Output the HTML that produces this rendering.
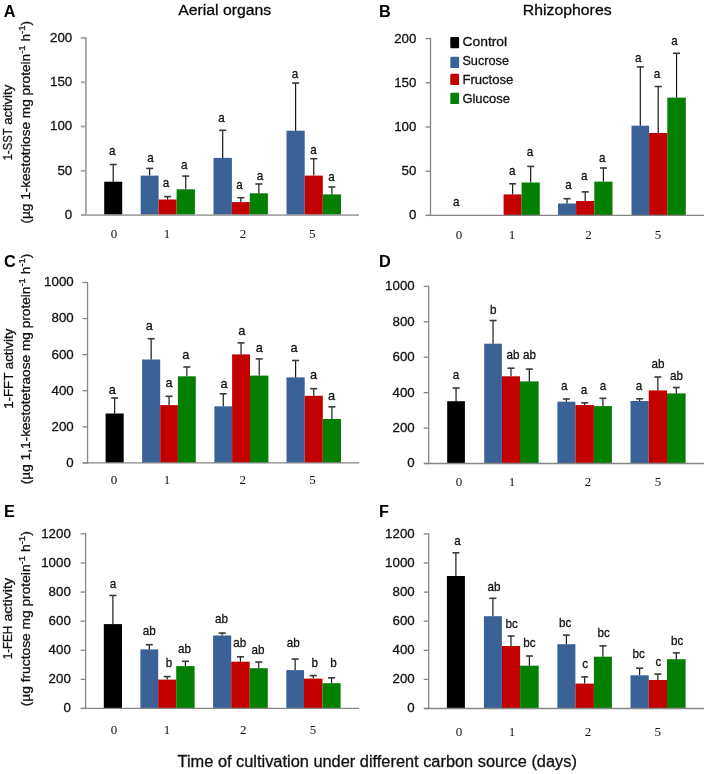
<!DOCTYPE html><html><head><meta charset="utf-8"><title>Fructan enzyme activities</title><style>html,body{margin:0;padding:0;background:#fff;}body{width:708px;height:774px;overflow:hidden;font-family:"Liberation Sans",sans-serif;}svg{display:block;will-change:transform;}text{stroke:#111;stroke-width:0.3px;}text.s,text.bl{stroke:none;}</style></head><body>
<svg width="708" height="774" viewBox="0 0 708 774">
<rect x="104.2" y="181.7" width="18" height="33.4" fill="#000000"/>
<rect x="140.7" y="175.6" width="17.9" height="39.5" fill="#3a6297"/>
<rect x="158.6" y="199.5" width="18" height="15.6" fill="#c30000"/>
<rect x="176.6" y="189.3" width="18.3" height="25.8" fill="#037f03"/>
<rect x="213.5" y="157.9" width="18.4" height="57.2" fill="#3a6297"/>
<rect x="231.9" y="202.1" width="17.9" height="13" fill="#c30000"/>
<rect x="249.8" y="193.3" width="18.1" height="21.8" fill="#037f03"/>
<rect x="286.5" y="130.7" width="18.2" height="84.4" fill="#3a6297"/>
<rect x="304.7" y="175.6" width="18.1" height="39.5" fill="#c30000"/>
<rect x="322.8" y="194.4" width="18.2" height="20.7" fill="#037f03"/>
<line x1="113.2" y1="181.7" x2="113.2" y2="164.2" stroke="#1a1a1a" stroke-width="1.2"/>
<line x1="109.7" y1="164.5" x2="116.7" y2="164.5" stroke="#3a3a3a" stroke-width="1.6"/>
<line x1="149.65" y1="175.6" x2="149.65" y2="168.1" stroke="#1a1a1a" stroke-width="1.2"/>
<line x1="146.15" y1="168.4" x2="153.15" y2="168.4" stroke="#3a3a3a" stroke-width="1.6"/>
<line x1="167.6" y1="199.5" x2="167.6" y2="196.3" stroke="#1a1a1a" stroke-width="1.2"/>
<line x1="164.1" y1="196.6" x2="171.1" y2="196.6" stroke="#3a3a3a" stroke-width="1.6"/>
<line x1="185.75" y1="189.3" x2="185.75" y2="175.8" stroke="#1a1a1a" stroke-width="1.2"/>
<line x1="182.25" y1="176.1" x2="189.25" y2="176.1" stroke="#3a3a3a" stroke-width="1.6"/>
<line x1="222.7" y1="157.9" x2="222.7" y2="130" stroke="#1a1a1a" stroke-width="1.2"/>
<line x1="219.2" y1="130.3" x2="226.2" y2="130.3" stroke="#3a3a3a" stroke-width="1.6"/>
<line x1="240.85" y1="202.1" x2="240.85" y2="197.4" stroke="#1a1a1a" stroke-width="1.2"/>
<line x1="237.35" y1="197.7" x2="244.35" y2="197.7" stroke="#3a3a3a" stroke-width="1.6"/>
<line x1="258.85" y1="193.3" x2="258.85" y2="183.7" stroke="#1a1a1a" stroke-width="1.2"/>
<line x1="255.35" y1="184" x2="262.35" y2="184" stroke="#3a3a3a" stroke-width="1.6"/>
<line x1="295.6" y1="130.7" x2="295.6" y2="82.8" stroke="#1a1a1a" stroke-width="1.2"/>
<line x1="292.1" y1="83.1" x2="299.1" y2="83.1" stroke="#3a3a3a" stroke-width="1.6"/>
<line x1="313.75" y1="175.6" x2="313.75" y2="158.4" stroke="#1a1a1a" stroke-width="1.2"/>
<line x1="310.25" y1="158.7" x2="317.25" y2="158.7" stroke="#3a3a3a" stroke-width="1.6"/>
<line x1="331.9" y1="194.4" x2="331.9" y2="186.7" stroke="#1a1a1a" stroke-width="1.2"/>
<line x1="328.4" y1="187" x2="335.4" y2="187" stroke="#3a3a3a" stroke-width="1.6"/>
<line x1="85.9" y1="36.95" x2="85.9" y2="216.05" stroke="#a6a6a6" stroke-width="1.9"/>
<line x1="81" y1="215.1" x2="359" y2="215.1" stroke="#a6a6a6" stroke-width="1.9"/>
<line x1="80.9" y1="215.1" x2="85.9" y2="215.1" stroke="#a6a6a6" stroke-width="1.9"/>
<text x="72.2" y="219" font-size="13.3" text-anchor="end" font-family='"Liberation Sans", sans-serif' font-weight="normal" fill="#111">0</text>
<line x1="80.9" y1="170.8" x2="85.9" y2="170.8" stroke="#a6a6a6" stroke-width="1.9"/>
<text x="72.2" y="174.7" font-size="13.3" text-anchor="end" font-family='"Liberation Sans", sans-serif' font-weight="normal" fill="#111">50</text>
<line x1="80.9" y1="126.5" x2="85.9" y2="126.5" stroke="#a6a6a6" stroke-width="1.9"/>
<text x="72.2" y="130.4" font-size="13.3" text-anchor="end" font-family='"Liberation Sans", sans-serif' font-weight="normal" fill="#111">100</text>
<line x1="80.9" y1="82.2" x2="85.9" y2="82.2" stroke="#a6a6a6" stroke-width="1.9"/>
<text x="72.2" y="86.1" font-size="13.3" text-anchor="end" font-family='"Liberation Sans", sans-serif' font-weight="normal" fill="#111">150</text>
<line x1="80.9" y1="37.9" x2="85.9" y2="37.9" stroke="#a6a6a6" stroke-width="1.9"/>
<text x="72.2" y="41.8" font-size="13.3" text-anchor="end" font-family='"Liberation Sans", sans-serif' font-weight="normal" fill="#111">200</text>
<text x="0" y="0" font-size="13.4" text-anchor="middle" font-family='"Liberation Sans", sans-serif' fill="#111" transform="translate(112.3 155.2) scale(0.87 1)">a</text>
<text x="0" y="0" font-size="13.4" text-anchor="middle" font-family='"Liberation Sans", sans-serif' fill="#111" transform="translate(150.4 161.6) scale(0.87 1)">a</text>
<text x="0" y="0" font-size="13.4" text-anchor="middle" font-family='"Liberation Sans", sans-serif' fill="#111" transform="translate(166 187) scale(0.87 1)">a</text>
<text x="0" y="0" font-size="13.4" text-anchor="middle" font-family='"Liberation Sans", sans-serif' fill="#111" transform="translate(184.2 169.2) scale(0.87 1)">a</text>
<text x="0" y="0" font-size="13.4" text-anchor="middle" font-family='"Liberation Sans", sans-serif' fill="#111" transform="translate(221.4 122.4) scale(0.87 1)">a</text>
<text x="0" y="0" font-size="13.4" text-anchor="middle" font-family='"Liberation Sans", sans-serif' fill="#111" transform="translate(239.5 189.4) scale(0.87 1)">a</text>
<text x="0" y="0" font-size="13.4" text-anchor="middle" font-family='"Liberation Sans", sans-serif' fill="#111" transform="translate(260 180.1) scale(0.87 1)">a</text>
<text x="0" y="0" font-size="13.4" text-anchor="middle" font-family='"Liberation Sans", sans-serif' fill="#111" transform="translate(294.9 78.2) scale(0.87 1)">a</text>
<text x="0" y="0" font-size="13.4" text-anchor="middle" font-family='"Liberation Sans", sans-serif' fill="#111" transform="translate(313.5 153.8) scale(0.87 1)">a</text>
<text x="0" y="0" font-size="13.4" text-anchor="middle" font-family='"Liberation Sans", sans-serif' fill="#111" transform="translate(331.4 180.5) scale(0.87 1)">a</text>
<text x="114" y="237.5" font-size="13" text-anchor="middle" font-family='"Liberation Serif", serif' font-weight="normal" fill="#111" class="s">0</text>
<text x="167" y="237.5" font-size="13" text-anchor="middle" font-family='"Liberation Serif", serif' font-weight="normal" fill="#111" class="s">1</text>
<text x="243" y="237.5" font-size="13" text-anchor="middle" font-family='"Liberation Serif", serif' font-weight="normal" fill="#111" class="s">2</text>
<text x="312.3" y="237.5" font-size="13" text-anchor="middle" font-family='"Liberation Serif", serif' font-weight="normal" fill="#111" class="s">5</text>
<text x="3.7" y="16.6" font-size="16.3" text-anchor="start" font-family='"Liberation Sans", sans-serif' font-weight="bold" fill="#000" class="bl">A</text>
<rect x="503.6" y="194.4" width="18" height="21" fill="#c30000"/>
<rect x="521.6" y="182.5" width="18.2" height="32.9" fill="#037f03"/>
<rect x="558" y="203.5" width="18.1" height="11.9" fill="#3a6297"/>
<rect x="576.1" y="201" width="18.2" height="14.4" fill="#c30000"/>
<rect x="594.3" y="181.6" width="18.2" height="33.8" fill="#037f03"/>
<rect x="631.5" y="125.7" width="17.6" height="89.7" fill="#3a6297"/>
<rect x="649.1" y="133" width="18.2" height="82.4" fill="#c30000"/>
<rect x="667.3" y="97.6" width="18.5" height="117.8" fill="#037f03"/>
<line x1="512.6" y1="194.4" x2="512.6" y2="183.5" stroke="#1a1a1a" stroke-width="1.2"/>
<line x1="509.1" y1="183.8" x2="516.1" y2="183.8" stroke="#3a3a3a" stroke-width="1.6"/>
<line x1="530.7" y1="182.5" x2="530.7" y2="166.1" stroke="#1a1a1a" stroke-width="1.2"/>
<line x1="527.2" y1="166.4" x2="534.2" y2="166.4" stroke="#3a3a3a" stroke-width="1.6"/>
<line x1="567.05" y1="203.5" x2="567.05" y2="198.4" stroke="#1a1a1a" stroke-width="1.2"/>
<line x1="563.55" y1="198.7" x2="570.55" y2="198.7" stroke="#3a3a3a" stroke-width="1.6"/>
<line x1="585.2" y1="201" x2="585.2" y2="191.6" stroke="#1a1a1a" stroke-width="1.2"/>
<line x1="581.7" y1="191.9" x2="588.7" y2="191.9" stroke="#3a3a3a" stroke-width="1.6"/>
<line x1="603.4" y1="181.6" x2="603.4" y2="167.7" stroke="#1a1a1a" stroke-width="1.2"/>
<line x1="599.9" y1="168" x2="606.9" y2="168" stroke="#3a3a3a" stroke-width="1.6"/>
<line x1="640.3" y1="125.7" x2="640.3" y2="66.6" stroke="#1a1a1a" stroke-width="1.2"/>
<line x1="636.8" y1="66.9" x2="643.8" y2="66.9" stroke="#3a3a3a" stroke-width="1.6"/>
<line x1="658.2" y1="133" x2="658.2" y2="86.2" stroke="#1a1a1a" stroke-width="1.2"/>
<line x1="654.7" y1="86.5" x2="661.7" y2="86.5" stroke="#3a3a3a" stroke-width="1.6"/>
<line x1="676.55" y1="97.6" x2="676.55" y2="53" stroke="#1a1a1a" stroke-width="1.2"/>
<line x1="673.05" y1="53.3" x2="680.05" y2="53.3" stroke="#3a3a3a" stroke-width="1.6"/>
<line x1="430.5" y1="37.95" x2="430.5" y2="216.05" stroke="#848484" stroke-width="1.3"/>
<line x1="426" y1="215.4" x2="704" y2="215.4" stroke="#848484" stroke-width="1.3"/>
<line x1="425.5" y1="215.4" x2="430.5" y2="215.4" stroke="#848484" stroke-width="1.3"/>
<text x="416.4" y="219.3" font-size="13.3" text-anchor="end" font-family='"Liberation Sans", sans-serif' font-weight="normal" fill="#111">0</text>
<line x1="425.5" y1="171.2" x2="430.5" y2="171.2" stroke="#848484" stroke-width="1.3"/>
<text x="416.4" y="175.1" font-size="13.3" text-anchor="end" font-family='"Liberation Sans", sans-serif' font-weight="normal" fill="#111">50</text>
<line x1="425.5" y1="127" x2="430.5" y2="127" stroke="#848484" stroke-width="1.3"/>
<text x="416.4" y="130.9" font-size="13.3" text-anchor="end" font-family='"Liberation Sans", sans-serif' font-weight="normal" fill="#111">100</text>
<line x1="425.5" y1="82.8" x2="430.5" y2="82.8" stroke="#848484" stroke-width="1.3"/>
<text x="416.4" y="86.7" font-size="13.3" text-anchor="end" font-family='"Liberation Sans", sans-serif' font-weight="normal" fill="#111">150</text>
<line x1="425.5" y1="38.6" x2="430.5" y2="38.6" stroke="#848484" stroke-width="1.3"/>
<text x="416.4" y="42.5" font-size="13.3" text-anchor="end" font-family='"Liberation Sans", sans-serif' font-weight="normal" fill="#111">200</text>
<text x="0" y="0" font-size="13.4" text-anchor="middle" font-family='"Liberation Sans", sans-serif' fill="#111" transform="translate(456.2 205.7) scale(0.87 1)">a</text>
<text x="0" y="0" font-size="13.4" text-anchor="middle" font-family='"Liberation Sans", sans-serif' fill="#111" transform="translate(512.3 174.7) scale(0.87 1)">a</text>
<text x="0" y="0" font-size="13.4" text-anchor="middle" font-family='"Liberation Sans", sans-serif' fill="#111" transform="translate(530 156.4) scale(0.87 1)">a</text>
<text x="0" y="0" font-size="13.4" text-anchor="middle" font-family='"Liberation Sans", sans-serif' fill="#111" transform="translate(568.4 189.2) scale(0.87 1)">a</text>
<text x="0" y="0" font-size="13.4" text-anchor="middle" font-family='"Liberation Sans", sans-serif' fill="#111" transform="translate(584.3 180.3) scale(0.87 1)">a</text>
<text x="0" y="0" font-size="13.4" text-anchor="middle" font-family='"Liberation Sans", sans-serif' fill="#111" transform="translate(602.3 162) scale(0.87 1)">a</text>
<text x="0" y="0" font-size="13.4" text-anchor="middle" font-family='"Liberation Sans", sans-serif' fill="#111" transform="translate(638.3 61.6) scale(0.87 1)">a</text>
<text x="0" y="0" font-size="13.4" text-anchor="middle" font-family='"Liberation Sans", sans-serif' fill="#111" transform="translate(657 78.2) scale(0.87 1)">a</text>
<text x="0" y="0" font-size="13.4" text-anchor="middle" font-family='"Liberation Sans", sans-serif' fill="#111" transform="translate(674.6 44.5) scale(0.87 1)">a</text>
<text x="459" y="239.2" font-size="13" text-anchor="middle" font-family='"Liberation Serif", serif' font-weight="normal" fill="#111" class="s">0</text>
<text x="512" y="239.2" font-size="13" text-anchor="middle" font-family='"Liberation Serif", serif' font-weight="normal" fill="#111" class="s">1</text>
<text x="588.4" y="239.2" font-size="13" text-anchor="middle" font-family='"Liberation Serif", serif' font-weight="normal" fill="#111" class="s">2</text>
<text x="658" y="239.2" font-size="13" text-anchor="middle" font-family='"Liberation Serif", serif' font-weight="normal" fill="#111" class="s">5</text>
<text x="379.1" y="16.8" font-size="16.3" text-anchor="start" font-family='"Liberation Sans", sans-serif' font-weight="bold" fill="#000" class="bl">B</text>
<rect x="105.6" y="413.5" width="18.1" height="49.4" fill="#000000"/>
<rect x="142.1" y="359.5" width="18.1" height="103.4" fill="#3a6297"/>
<rect x="160.2" y="405.1" width="17.7" height="57.8" fill="#c30000"/>
<rect x="177.9" y="376.3" width="17.9" height="86.6" fill="#037f03"/>
<rect x="214.4" y="406.3" width="17.7" height="56.6" fill="#3a6297"/>
<rect x="232.1" y="354.4" width="17.9" height="108.5" fill="#c30000"/>
<rect x="250" y="375.6" width="18.4" height="87.3" fill="#037f03"/>
<rect x="286.5" y="377.4" width="18.2" height="85.5" fill="#3a6297"/>
<rect x="304.7" y="395.8" width="18.1" height="67.1" fill="#c30000"/>
<rect x="322.8" y="419" width="18.2" height="43.9" fill="#037f03"/>
<line x1="114.65" y1="413.5" x2="114.65" y2="397.7" stroke="#1a1a1a" stroke-width="1.2"/>
<line x1="111.15" y1="398" x2="118.15" y2="398" stroke="#3a3a3a" stroke-width="1.6"/>
<line x1="151.15" y1="359.5" x2="151.15" y2="338.4" stroke="#1a1a1a" stroke-width="1.2"/>
<line x1="147.65" y1="338.7" x2="154.65" y2="338.7" stroke="#3a3a3a" stroke-width="1.6"/>
<line x1="169.05" y1="405.1" x2="169.05" y2="396" stroke="#1a1a1a" stroke-width="1.2"/>
<line x1="165.55" y1="396.3" x2="172.55" y2="396.3" stroke="#3a3a3a" stroke-width="1.6"/>
<line x1="186.85" y1="376.3" x2="186.85" y2="366.7" stroke="#1a1a1a" stroke-width="1.2"/>
<line x1="183.35" y1="367" x2="190.35" y2="367" stroke="#3a3a3a" stroke-width="1.6"/>
<line x1="223.25" y1="406.3" x2="223.25" y2="393.5" stroke="#1a1a1a" stroke-width="1.2"/>
<line x1="219.75" y1="393.8" x2="226.75" y2="393.8" stroke="#3a3a3a" stroke-width="1.6"/>
<line x1="241.05" y1="354.4" x2="241.05" y2="342.6" stroke="#1a1a1a" stroke-width="1.2"/>
<line x1="237.55" y1="342.9" x2="244.55" y2="342.9" stroke="#3a3a3a" stroke-width="1.6"/>
<line x1="259.2" y1="375.6" x2="259.2" y2="358.6" stroke="#1a1a1a" stroke-width="1.2"/>
<line x1="255.7" y1="358.9" x2="262.7" y2="358.9" stroke="#3a3a3a" stroke-width="1.6"/>
<line x1="295.6" y1="377.4" x2="295.6" y2="360.2" stroke="#1a1a1a" stroke-width="1.2"/>
<line x1="292.1" y1="360.5" x2="299.1" y2="360.5" stroke="#3a3a3a" stroke-width="1.6"/>
<line x1="313.75" y1="395.8" x2="313.75" y2="388.4" stroke="#1a1a1a" stroke-width="1.2"/>
<line x1="310.25" y1="388.7" x2="317.25" y2="388.7" stroke="#3a3a3a" stroke-width="1.6"/>
<line x1="331.9" y1="419" x2="331.9" y2="406.5" stroke="#1a1a1a" stroke-width="1.2"/>
<line x1="328.4" y1="406.8" x2="335.4" y2="406.8" stroke="#3a3a3a" stroke-width="1.6"/>
<line x1="87.55" y1="281.85" x2="87.55" y2="463.55" stroke="#868686" stroke-width="1.3"/>
<line x1="83" y1="462.9" x2="359.3" y2="462.9" stroke="#868686" stroke-width="1.3"/>
<line x1="82.55" y1="462.9" x2="87.55" y2="462.9" stroke="#868686" stroke-width="1.3"/>
<text x="73.7" y="466.8" font-size="13.3" text-anchor="end" font-family='"Liberation Sans", sans-serif' font-weight="normal" fill="#111">0</text>
<line x1="82.55" y1="426.82" x2="87.55" y2="426.82" stroke="#868686" stroke-width="1.3"/>
<text x="73.7" y="430.72" font-size="13.3" text-anchor="end" font-family='"Liberation Sans", sans-serif' font-weight="normal" fill="#111">200</text>
<line x1="82.55" y1="390.74" x2="87.55" y2="390.74" stroke="#868686" stroke-width="1.3"/>
<text x="73.7" y="394.64" font-size="13.3" text-anchor="end" font-family='"Liberation Sans", sans-serif' font-weight="normal" fill="#111">400</text>
<line x1="82.55" y1="354.66" x2="87.55" y2="354.66" stroke="#868686" stroke-width="1.3"/>
<text x="73.7" y="358.56" font-size="13.3" text-anchor="end" font-family='"Liberation Sans", sans-serif' font-weight="normal" fill="#111">600</text>
<line x1="82.55" y1="318.58" x2="87.55" y2="318.58" stroke="#868686" stroke-width="1.3"/>
<text x="73.7" y="322.48" font-size="13.3" text-anchor="end" font-family='"Liberation Sans", sans-serif' font-weight="normal" fill="#111">800</text>
<line x1="82.55" y1="282.5" x2="87.55" y2="282.5" stroke="#868686" stroke-width="1.3"/>
<text x="73.7" y="286.4" font-size="13.3" text-anchor="end" font-family='"Liberation Sans", sans-serif' font-weight="normal" fill="#111">1000</text>
<text x="0" y="0" font-size="13.4" text-anchor="middle" font-family='"Liberation Sans", sans-serif' fill="#111" transform="translate(112.2 393.5) scale(0.95 1)">a</text>
<text x="0" y="0" font-size="13.4" text-anchor="middle" font-family='"Liberation Sans", sans-serif' fill="#111" transform="translate(149.3 329.8) scale(0.95 1)">a</text>
<text x="0" y="0" font-size="13.4" text-anchor="middle" font-family='"Liberation Sans", sans-serif' fill="#111" transform="translate(169 386.8) scale(0.95 1)">a</text>
<text x="0" y="0" font-size="13.4" text-anchor="middle" font-family='"Liberation Sans", sans-serif' fill="#111" transform="translate(185.8 358.9) scale(0.95 1)">a</text>
<text x="0" y="0" font-size="13.4" text-anchor="middle" font-family='"Liberation Sans", sans-serif' fill="#111" transform="translate(224 387.5) scale(0.95 1)">a</text>
<text x="0" y="0" font-size="13.4" text-anchor="middle" font-family='"Liberation Sans", sans-serif' fill="#111" transform="translate(241.9 334.5) scale(0.95 1)">a</text>
<text x="0" y="0" font-size="13.4" text-anchor="middle" font-family='"Liberation Sans", sans-serif' fill="#111" transform="translate(259.3 351.9) scale(0.95 1)">a</text>
<text x="0" y="0" font-size="13.4" text-anchor="middle" font-family='"Liberation Sans", sans-serif' fill="#111" transform="translate(294 351.6) scale(0.95 1)">a</text>
<text x="0" y="0" font-size="13.4" text-anchor="middle" font-family='"Liberation Sans", sans-serif' fill="#111" transform="translate(313.5 378.6) scale(0.95 1)">a</text>
<text x="0" y="0" font-size="13.4" text-anchor="middle" font-family='"Liberation Sans", sans-serif' fill="#111" transform="translate(331.6 400.1) scale(0.95 1)">a</text>
<text x="114.1" y="484.4" font-size="13" text-anchor="middle" font-family='"Liberation Serif", serif' font-weight="normal" fill="#111" class="s">0</text>
<text x="167" y="484.4" font-size="13" text-anchor="middle" font-family='"Liberation Serif", serif' font-weight="normal" fill="#111" class="s">1</text>
<text x="242.7" y="484.4" font-size="13" text-anchor="middle" font-family='"Liberation Serif", serif' font-weight="normal" fill="#111" class="s">2</text>
<text x="312.5" y="484.4" font-size="13" text-anchor="middle" font-family='"Liberation Serif", serif' font-weight="normal" fill="#111" class="s">5</text>
<text x="4" y="267.1" font-size="16.3" text-anchor="start" font-family='"Liberation Sans", sans-serif' font-weight="bold" fill="#000" class="bl">C</text>
<rect x="447.2" y="401.2" width="17.7" height="62.3" fill="#000000"/>
<rect x="484.2" y="343.7" width="17.7" height="119.8" fill="#3a6297"/>
<rect x="501.9" y="376.3" width="18.1" height="87.2" fill="#c30000"/>
<rect x="520" y="381.4" width="18.6" height="82.1" fill="#037f03"/>
<rect x="557.4" y="401.7" width="18" height="61.8" fill="#3a6297"/>
<rect x="575.4" y="405" width="18.5" height="58.5" fill="#c30000"/>
<rect x="593.9" y="406.1" width="18" height="57.4" fill="#037f03"/>
<rect x="630.5" y="401" width="18.2" height="62.5" fill="#3a6297"/>
<rect x="648.7" y="390.4" width="18.3" height="73.1" fill="#c30000"/>
<rect x="667" y="393.4" width="18.6" height="70.1" fill="#037f03"/>
<line x1="456.05" y1="401.2" x2="456.05" y2="387.7" stroke="#1a1a1a" stroke-width="1.2"/>
<line x1="452.55" y1="388" x2="459.55" y2="388" stroke="#3a3a3a" stroke-width="1.6"/>
<line x1="493.05" y1="343.7" x2="493.05" y2="320.2" stroke="#1a1a1a" stroke-width="1.2"/>
<line x1="489.55" y1="320.5" x2="496.55" y2="320.5" stroke="#3a3a3a" stroke-width="1.6"/>
<line x1="510.95" y1="376.3" x2="510.95" y2="367.9" stroke="#1a1a1a" stroke-width="1.2"/>
<line x1="507.45" y1="368.2" x2="514.45" y2="368.2" stroke="#3a3a3a" stroke-width="1.6"/>
<line x1="529.3" y1="381.4" x2="529.3" y2="368.8" stroke="#1a1a1a" stroke-width="1.2"/>
<line x1="525.8" y1="369.1" x2="532.8" y2="369.1" stroke="#3a3a3a" stroke-width="1.6"/>
<line x1="566.4" y1="401.7" x2="566.4" y2="398.7" stroke="#1a1a1a" stroke-width="1.2"/>
<line x1="562.9" y1="399" x2="569.9" y2="399" stroke="#3a3a3a" stroke-width="1.6"/>
<line x1="584.65" y1="405" x2="584.65" y2="402.5" stroke="#1a1a1a" stroke-width="1.2"/>
<line x1="581.15" y1="402.8" x2="588.15" y2="402.8" stroke="#3a3a3a" stroke-width="1.6"/>
<line x1="602.9" y1="406.1" x2="602.9" y2="398" stroke="#1a1a1a" stroke-width="1.2"/>
<line x1="599.4" y1="398.3" x2="606.4" y2="398.3" stroke="#3a3a3a" stroke-width="1.6"/>
<line x1="639.6" y1="401" x2="639.6" y2="398.5" stroke="#1a1a1a" stroke-width="1.2"/>
<line x1="636.1" y1="398.8" x2="643.1" y2="398.8" stroke="#3a3a3a" stroke-width="1.6"/>
<line x1="657.85" y1="390.4" x2="657.85" y2="376.7" stroke="#1a1a1a" stroke-width="1.2"/>
<line x1="654.35" y1="377" x2="661.35" y2="377" stroke="#3a3a3a" stroke-width="1.6"/>
<line x1="676.3" y1="393.4" x2="676.3" y2="387.2" stroke="#1a1a1a" stroke-width="1.2"/>
<line x1="672.8" y1="387.5" x2="679.8" y2="387.5" stroke="#3a3a3a" stroke-width="1.6"/>
<line x1="428.7" y1="285.75" x2="428.7" y2="464.15" stroke="#868686" stroke-width="1.3"/>
<line x1="424" y1="463.5" x2="704" y2="463.5" stroke="#868686" stroke-width="1.3"/>
<line x1="423.7" y1="463.5" x2="428.7" y2="463.5" stroke="#868686" stroke-width="1.3"/>
<text x="414.7" y="467.4" font-size="13.3" text-anchor="end" font-family='"Liberation Sans", sans-serif' font-weight="normal" fill="#111">0</text>
<line x1="423.7" y1="428.08" x2="428.7" y2="428.08" stroke="#868686" stroke-width="1.3"/>
<text x="414.7" y="431.98" font-size="13.3" text-anchor="end" font-family='"Liberation Sans", sans-serif' font-weight="normal" fill="#111">200</text>
<line x1="423.7" y1="392.66" x2="428.7" y2="392.66" stroke="#868686" stroke-width="1.3"/>
<text x="414.7" y="396.56" font-size="13.3" text-anchor="end" font-family='"Liberation Sans", sans-serif' font-weight="normal" fill="#111">400</text>
<line x1="423.7" y1="357.24" x2="428.7" y2="357.24" stroke="#868686" stroke-width="1.3"/>
<text x="414.7" y="361.14" font-size="13.3" text-anchor="end" font-family='"Liberation Sans", sans-serif' font-weight="normal" fill="#111">600</text>
<line x1="423.7" y1="321.82" x2="428.7" y2="321.82" stroke="#868686" stroke-width="1.3"/>
<text x="414.7" y="325.72" font-size="13.3" text-anchor="end" font-family='"Liberation Sans", sans-serif' font-weight="normal" fill="#111">800</text>
<line x1="423.7" y1="286.4" x2="428.7" y2="286.4" stroke="#868686" stroke-width="1.3"/>
<text x="414.7" y="290.3" font-size="13.3" text-anchor="end" font-family='"Liberation Sans", sans-serif' font-weight="normal" fill="#111">1000</text>
<text x="0" y="0" font-size="13.4" text-anchor="middle" font-family='"Liberation Sans", sans-serif' fill="#111" transform="translate(456 378.6) scale(0.87 1)">a</text>
<text x="0" y="0" font-size="13.4" text-anchor="middle" font-family='"Liberation Sans", sans-serif' fill="#111" transform="translate(493.3 314) scale(0.87 1)">b</text>
<text x="0" y="0" font-size="13.4" text-anchor="middle" font-family='"Liberation Sans", sans-serif' fill="#111" transform="translate(513 359.4) scale(0.87 1)">ab</text>
<text x="0" y="0" font-size="13.4" text-anchor="middle" font-family='"Liberation Sans", sans-serif' fill="#111" transform="translate(529.4 359.4) scale(0.87 1)">ab</text>
<text x="0" y="0" font-size="13.4" text-anchor="middle" font-family='"Liberation Sans", sans-serif' fill="#111" transform="translate(564.2 390) scale(0.87 1)">a</text>
<text x="0" y="0" font-size="13.4" text-anchor="middle" font-family='"Liberation Sans", sans-serif' fill="#111" transform="translate(583.9 393.6) scale(0.87 1)">a</text>
<text x="0" y="0" font-size="13.4" text-anchor="middle" font-family='"Liberation Sans", sans-serif' fill="#111" transform="translate(603 390) scale(0.87 1)">a</text>
<text x="0" y="0" font-size="13.4" text-anchor="middle" font-family='"Liberation Sans", sans-serif' fill="#111" transform="translate(639 390) scale(0.87 1)">a</text>
<text x="0" y="0" font-size="13.4" text-anchor="middle" font-family='"Liberation Sans", sans-serif' fill="#111" transform="translate(658 367.6) scale(0.87 1)">ab</text>
<text x="0" y="0" font-size="13.4" text-anchor="middle" font-family='"Liberation Sans", sans-serif' fill="#111" transform="translate(676.5 379.9) scale(0.87 1)">ab</text>
<text x="459" y="485.8" font-size="13" text-anchor="middle" font-family='"Liberation Serif", serif' font-weight="normal" fill="#111" class="s">0</text>
<text x="512" y="485.8" font-size="13" text-anchor="middle" font-family='"Liberation Serif", serif' font-weight="normal" fill="#111" class="s">1</text>
<text x="587.9" y="485.8" font-size="13" text-anchor="middle" font-family='"Liberation Serif", serif' font-weight="normal" fill="#111" class="s">2</text>
<text x="658" y="485.8" font-size="13" text-anchor="middle" font-family='"Liberation Serif", serif' font-weight="normal" fill="#111" class="s">5</text>
<text x="379" y="267.2" font-size="16.3" text-anchor="start" font-family='"Liberation Sans", sans-serif' font-weight="bold" fill="#000" class="bl">D</text>
<rect x="103.8" y="624.1" width="18.2" height="84.35" fill="#000000"/>
<rect x="140.4" y="649.4" width="17.8" height="59.05" fill="#3a6297"/>
<rect x="158.2" y="679.6" width="18" height="28.85" fill="#c30000"/>
<rect x="176.2" y="666.1" width="18.4" height="42.35" fill="#037f03"/>
<rect x="213.1" y="635.5" width="18.1" height="72.95" fill="#3a6297"/>
<rect x="231.2" y="661.7" width="18.5" height="46.75" fill="#c30000"/>
<rect x="249.7" y="668.2" width="18.1" height="40.25" fill="#037f03"/>
<rect x="286.3" y="670.1" width="17.7" height="38.35" fill="#3a6297"/>
<rect x="304" y="678.6" width="18.5" height="29.85" fill="#c30000"/>
<rect x="322.5" y="683.2" width="18.1" height="25.25" fill="#037f03"/>
<line x1="112.9" y1="624.1" x2="112.9" y2="595.2" stroke="#1a1a1a" stroke-width="1.2"/>
<line x1="109.4" y1="595.5" x2="116.4" y2="595.5" stroke="#3a3a3a" stroke-width="1.6"/>
<line x1="149.3" y1="649.4" x2="149.3" y2="644.4" stroke="#1a1a1a" stroke-width="1.2"/>
<line x1="145.8" y1="644.7" x2="152.8" y2="644.7" stroke="#3a3a3a" stroke-width="1.6"/>
<line x1="167.2" y1="679.6" x2="167.2" y2="676.3" stroke="#1a1a1a" stroke-width="1.2"/>
<line x1="163.7" y1="676.6" x2="170.7" y2="676.6" stroke="#3a3a3a" stroke-width="1.6"/>
<line x1="185.4" y1="666.1" x2="185.4" y2="661" stroke="#1a1a1a" stroke-width="1.2"/>
<line x1="181.9" y1="661.3" x2="188.9" y2="661.3" stroke="#3a3a3a" stroke-width="1.6"/>
<line x1="222.15" y1="635.5" x2="222.15" y2="632.8" stroke="#1a1a1a" stroke-width="1.2"/>
<line x1="218.65" y1="633.1" x2="225.65" y2="633.1" stroke="#3a3a3a" stroke-width="1.6"/>
<line x1="240.45" y1="661.7" x2="240.45" y2="656.5" stroke="#1a1a1a" stroke-width="1.2"/>
<line x1="236.95" y1="656.8" x2="243.95" y2="656.8" stroke="#3a3a3a" stroke-width="1.6"/>
<line x1="258.75" y1="668.2" x2="258.75" y2="661.7" stroke="#1a1a1a" stroke-width="1.2"/>
<line x1="255.25" y1="662" x2="262.25" y2="662" stroke="#3a3a3a" stroke-width="1.6"/>
<line x1="295.15" y1="670.1" x2="295.15" y2="658.8" stroke="#1a1a1a" stroke-width="1.2"/>
<line x1="291.65" y1="659.1" x2="298.65" y2="659.1" stroke="#3a3a3a" stroke-width="1.6"/>
<line x1="313.25" y1="678.6" x2="313.25" y2="675.3" stroke="#1a1a1a" stroke-width="1.2"/>
<line x1="309.75" y1="675.6" x2="316.75" y2="675.6" stroke="#3a3a3a" stroke-width="1.6"/>
<line x1="331.55" y1="683.2" x2="331.55" y2="677.5" stroke="#1a1a1a" stroke-width="1.2"/>
<line x1="328.05" y1="677.8" x2="335.05" y2="677.8" stroke="#3a3a3a" stroke-width="1.6"/>
<line x1="85.6" y1="533.25" x2="85.6" y2="709.1" stroke="#868686" stroke-width="1.3"/>
<line x1="81" y1="708.45" x2="359.1" y2="708.45" stroke="#868686" stroke-width="1.3"/>
<line x1="80.6" y1="708.45" x2="85.6" y2="708.45" stroke="#868686" stroke-width="1.3"/>
<text x="70.8" y="712.35" font-size="13.3" text-anchor="end" font-family='"Liberation Sans", sans-serif' font-weight="normal" fill="#111">0</text>
<line x1="80.6" y1="679.36" x2="85.6" y2="679.36" stroke="#868686" stroke-width="1.3"/>
<text x="70.8" y="683.26" font-size="13.3" text-anchor="end" font-family='"Liberation Sans", sans-serif' font-weight="normal" fill="#111">200</text>
<line x1="80.6" y1="650.27" x2="85.6" y2="650.27" stroke="#868686" stroke-width="1.3"/>
<text x="70.8" y="654.17" font-size="13.3" text-anchor="end" font-family='"Liberation Sans", sans-serif' font-weight="normal" fill="#111">400</text>
<line x1="80.6" y1="621.17" x2="85.6" y2="621.17" stroke="#868686" stroke-width="1.3"/>
<text x="70.8" y="625.07" font-size="13.3" text-anchor="end" font-family='"Liberation Sans", sans-serif' font-weight="normal" fill="#111">600</text>
<line x1="80.6" y1="592.08" x2="85.6" y2="592.08" stroke="#868686" stroke-width="1.3"/>
<text x="70.8" y="595.98" font-size="13.3" text-anchor="end" font-family='"Liberation Sans", sans-serif' font-weight="normal" fill="#111">800</text>
<line x1="80.6" y1="562.99" x2="85.6" y2="562.99" stroke="#868686" stroke-width="1.3"/>
<text x="70.8" y="566.89" font-size="13.3" text-anchor="end" font-family='"Liberation Sans", sans-serif' font-weight="normal" fill="#111">1000</text>
<line x1="80.6" y1="533.9" x2="85.6" y2="533.9" stroke="#868686" stroke-width="1.3"/>
<text x="70.8" y="537.8" font-size="13.3" text-anchor="end" font-family='"Liberation Sans", sans-serif' font-weight="normal" fill="#111">1200</text>
<text x="0" y="0" font-size="13.4" text-anchor="middle" font-family='"Liberation Sans", sans-serif' fill="#111" transform="translate(113.1 587.9) scale(0.87 1)">a</text>
<text x="0" y="0" font-size="13.4" text-anchor="middle" font-family='"Liberation Sans", sans-serif' fill="#111" transform="translate(149.3 634.5) scale(0.87 1)">ab</text>
<text x="0" y="0" font-size="13.4" text-anchor="middle" font-family='"Liberation Sans", sans-serif' fill="#111" transform="translate(169 667.2) scale(0.87 1)">b</text>
<text x="0" y="0" font-size="13.4" text-anchor="middle" font-family='"Liberation Sans", sans-serif' fill="#111" transform="translate(184.6 652.7) scale(0.87 1)">ab</text>
<text x="0" y="0" font-size="13.4" text-anchor="middle" font-family='"Liberation Sans", sans-serif' fill="#111" transform="translate(221.5 622.6) scale(0.87 1)">ab</text>
<text x="0" y="0" font-size="13.4" text-anchor="middle" font-family='"Liberation Sans", sans-serif' fill="#111" transform="translate(239.8 647.1) scale(0.87 1)">ab</text>
<text x="0" y="0" font-size="13.4" text-anchor="middle" font-family='"Liberation Sans", sans-serif' fill="#111" transform="translate(258 653.8) scale(0.87 1)">ab</text>
<text x="0" y="0" font-size="13.4" text-anchor="middle" font-family='"Liberation Sans", sans-serif' fill="#111" transform="translate(293.2 647.1) scale(0.87 1)">ab</text>
<text x="0" y="0" font-size="13.4" text-anchor="middle" font-family='"Liberation Sans", sans-serif' fill="#111" transform="translate(314.7 666.9) scale(0.87 1)">b</text>
<text x="0" y="0" font-size="13.4" text-anchor="middle" font-family='"Liberation Sans", sans-serif' fill="#111" transform="translate(333.6 666.9) scale(0.87 1)">b</text>
<text x="113.9" y="733.8" font-size="13" text-anchor="middle" font-family='"Liberation Serif", serif' font-weight="normal" fill="#111" class="s">0</text>
<text x="167" y="733.8" font-size="13" text-anchor="middle" font-family='"Liberation Serif", serif' font-weight="normal" fill="#111" class="s">1</text>
<text x="243.2" y="733.8" font-size="13" text-anchor="middle" font-family='"Liberation Serif", serif' font-weight="normal" fill="#111" class="s">2</text>
<text x="313" y="733.8" font-size="13" text-anchor="middle" font-family='"Liberation Serif", serif' font-weight="normal" fill="#111" class="s">5</text>
<text x="3.9" y="517.4" font-size="16.3" text-anchor="start" font-family='"Liberation Sans", sans-serif' font-weight="bold" fill="#000" class="bl">E</text>
<rect x="446.9" y="576" width="18" height="132.5" fill="#000000"/>
<rect x="483.9" y="616.2" width="18" height="92.3" fill="#3a6297"/>
<rect x="501.9" y="646" width="18.2" height="62.5" fill="#c30000"/>
<rect x="520.1" y="665.7" width="18.6" height="42.8" fill="#037f03"/>
<rect x="557.4" y="644.2" width="18" height="64.3" fill="#3a6297"/>
<rect x="575.4" y="683.6" width="18.5" height="24.9" fill="#c30000"/>
<rect x="593.9" y="656.7" width="18" height="51.8" fill="#037f03"/>
<rect x="630.5" y="675.3" width="18.2" height="33.2" fill="#3a6297"/>
<rect x="648.7" y="680" width="18.3" height="28.5" fill="#c30000"/>
<rect x="667" y="659.2" width="18.6" height="49.3" fill="#037f03"/>
<line x1="455.9" y1="576" x2="455.9" y2="552.5" stroke="#1a1a1a" stroke-width="1.2"/>
<line x1="452.4" y1="552.8" x2="459.4" y2="552.8" stroke="#3a3a3a" stroke-width="1.6"/>
<line x1="492.9" y1="616.2" x2="492.9" y2="598" stroke="#1a1a1a" stroke-width="1.2"/>
<line x1="489.4" y1="598.3" x2="496.4" y2="598.3" stroke="#3a3a3a" stroke-width="1.6"/>
<line x1="511" y1="646" x2="511" y2="635.7" stroke="#1a1a1a" stroke-width="1.2"/>
<line x1="507.5" y1="636" x2="514.5" y2="636" stroke="#3a3a3a" stroke-width="1.6"/>
<line x1="529.4" y1="665.7" x2="529.4" y2="655.7" stroke="#1a1a1a" stroke-width="1.2"/>
<line x1="525.9" y1="656" x2="532.9" y2="656" stroke="#3a3a3a" stroke-width="1.6"/>
<line x1="566.4" y1="644.2" x2="566.4" y2="634.8" stroke="#1a1a1a" stroke-width="1.2"/>
<line x1="562.9" y1="635.1" x2="569.9" y2="635.1" stroke="#3a3a3a" stroke-width="1.6"/>
<line x1="584.65" y1="683.6" x2="584.65" y2="676.6" stroke="#1a1a1a" stroke-width="1.2"/>
<line x1="581.15" y1="676.9" x2="588.15" y2="676.9" stroke="#3a3a3a" stroke-width="1.6"/>
<line x1="602.9" y1="656.7" x2="602.9" y2="645.6" stroke="#1a1a1a" stroke-width="1.2"/>
<line x1="599.4" y1="645.9" x2="606.4" y2="645.9" stroke="#3a3a3a" stroke-width="1.6"/>
<line x1="639.6" y1="675.3" x2="639.6" y2="667.9" stroke="#1a1a1a" stroke-width="1.2"/>
<line x1="636.1" y1="668.2" x2="643.1" y2="668.2" stroke="#3a3a3a" stroke-width="1.6"/>
<line x1="657.85" y1="680" x2="657.85" y2="673.8" stroke="#1a1a1a" stroke-width="1.2"/>
<line x1="654.35" y1="674.1" x2="661.35" y2="674.1" stroke="#3a3a3a" stroke-width="1.6"/>
<line x1="676.3" y1="659.2" x2="676.3" y2="652.6" stroke="#1a1a1a" stroke-width="1.2"/>
<line x1="672.8" y1="652.9" x2="679.8" y2="652.9" stroke="#3a3a3a" stroke-width="1.6"/>
<line x1="428.7" y1="533.25" x2="428.7" y2="709.15" stroke="#868686" stroke-width="1.3"/>
<line x1="424" y1="708.5" x2="704" y2="708.5" stroke="#868686" stroke-width="1.3"/>
<line x1="423.7" y1="708.5" x2="428.7" y2="708.5" stroke="#868686" stroke-width="1.3"/>
<text x="414.7" y="712.4" font-size="13.3" text-anchor="end" font-family='"Liberation Sans", sans-serif' font-weight="normal" fill="#111">0</text>
<line x1="423.7" y1="679.4" x2="428.7" y2="679.4" stroke="#868686" stroke-width="1.3"/>
<text x="414.7" y="683.3" font-size="13.3" text-anchor="end" font-family='"Liberation Sans", sans-serif' font-weight="normal" fill="#111">200</text>
<line x1="423.7" y1="650.3" x2="428.7" y2="650.3" stroke="#868686" stroke-width="1.3"/>
<text x="414.7" y="654.2" font-size="13.3" text-anchor="end" font-family='"Liberation Sans", sans-serif' font-weight="normal" fill="#111">400</text>
<line x1="423.7" y1="621.2" x2="428.7" y2="621.2" stroke="#868686" stroke-width="1.3"/>
<text x="414.7" y="625.1" font-size="13.3" text-anchor="end" font-family='"Liberation Sans", sans-serif' font-weight="normal" fill="#111">600</text>
<line x1="423.7" y1="592.1" x2="428.7" y2="592.1" stroke="#868686" stroke-width="1.3"/>
<text x="414.7" y="596" font-size="13.3" text-anchor="end" font-family='"Liberation Sans", sans-serif' font-weight="normal" fill="#111">800</text>
<line x1="423.7" y1="563" x2="428.7" y2="563" stroke="#868686" stroke-width="1.3"/>
<text x="414.7" y="566.9" font-size="13.3" text-anchor="end" font-family='"Liberation Sans", sans-serif' font-weight="normal" fill="#111">1000</text>
<line x1="423.7" y1="533.9" x2="428.7" y2="533.9" stroke="#868686" stroke-width="1.3"/>
<text x="414.7" y="537.8" font-size="13.3" text-anchor="end" font-family='"Liberation Sans", sans-serif' font-weight="normal" fill="#111">1200</text>
<text x="0" y="0" font-size="13.4" text-anchor="middle" font-family='"Liberation Sans", sans-serif' fill="#111" transform="translate(457.5 544.5) scale(0.87 1)">a</text>
<text x="0" y="0" font-size="13.4" text-anchor="middle" font-family='"Liberation Sans", sans-serif' fill="#111" transform="translate(493.9 591) scale(0.87 1)">ab</text>
<text x="0" y="0" font-size="13.4" text-anchor="middle" font-family='"Liberation Sans", sans-serif' fill="#111" transform="translate(511.7 627.8) scale(0.87 1)">bc</text>
<text x="0" y="0" font-size="13.4" text-anchor="middle" font-family='"Liberation Sans", sans-serif' fill="#111" transform="translate(529.3 646.9) scale(0.87 1)">bc</text>
<text x="0" y="0" font-size="13.4" text-anchor="middle" font-family='"Liberation Sans", sans-serif' fill="#111" transform="translate(565.2 627.1) scale(0.87 1)">bc</text>
<text x="0" y="0" font-size="13.4" text-anchor="middle" font-family='"Liberation Sans", sans-serif' fill="#111" transform="translate(585.1 667.9) scale(0.87 1)">c</text>
<text x="0" y="0" font-size="13.4" text-anchor="middle" font-family='"Liberation Sans", sans-serif' fill="#111" transform="translate(603.7 637) scale(0.87 1)">bc</text>
<text x="0" y="0" font-size="13.4" text-anchor="middle" font-family='"Liberation Sans", sans-serif' fill="#111" transform="translate(638.6 657.7) scale(0.87 1)">bc</text>
<text x="0" y="0" font-size="13.4" text-anchor="middle" font-family='"Liberation Sans", sans-serif' fill="#111" transform="translate(658.5 665.8) scale(0.87 1)">c</text>
<text x="0" y="0" font-size="13.4" text-anchor="middle" font-family='"Liberation Sans", sans-serif' fill="#111" transform="translate(677.1 645.4) scale(0.87 1)">bc</text>
<text x="459" y="735.8" font-size="13" text-anchor="middle" font-family='"Liberation Serif", serif' font-weight="normal" fill="#111" class="s">0</text>
<text x="512" y="735.8" font-size="13" text-anchor="middle" font-family='"Liberation Serif", serif' font-weight="normal" fill="#111" class="s">1</text>
<text x="588" y="735.8" font-size="13" text-anchor="middle" font-family='"Liberation Serif", serif' font-weight="normal" fill="#111" class="s">2</text>
<text x="657.8" y="735.8" font-size="13" text-anchor="middle" font-family='"Liberation Serif", serif' font-weight="normal" fill="#111" class="s">5</text>
<text x="379.1" y="517.4" font-size="16.3" text-anchor="start" font-family='"Liberation Sans", sans-serif' font-weight="bold" fill="#000" class="bl">F</text>
<text x="178.2" y="14.9" font-size="15.5" text-anchor="start" font-family='"Liberation Sans", sans-serif' font-weight="normal" fill="#000" textLength="93" lengthAdjust="spacingAndGlyphs">Aerial organs</text>
<text x="522.8" y="14.9" font-size="15.5" text-anchor="start" font-family='"Liberation Sans", sans-serif' font-weight="normal" fill="#000" textLength="88.8" lengthAdjust="spacingAndGlyphs">Rhizophores</text>
<rect x="450.3" y="37" width="8.8" height="11.3" rx="1.2" fill="#000000"/>
<text x="462.4" y="46" font-size="13.5" text-anchor="start" font-family='"Liberation Sans", sans-serif' font-weight="normal" fill="#111" textLength="44.8" lengthAdjust="spacingAndGlyphs">Control</text>
<rect x="450.3" y="56.8" width="8.8" height="11.3" rx="1.2" fill="#3a6297"/>
<text x="462.4" y="64.8" font-size="13.5" text-anchor="start" font-family='"Liberation Sans", sans-serif' font-weight="normal" fill="#111" textLength="46.6" lengthAdjust="spacingAndGlyphs">Sucrose</text>
<rect x="450.3" y="73.8" width="8.8" height="11.3" rx="1.2" fill="#c30000"/>
<text x="462.4" y="84.3" font-size="13.5" text-anchor="start" font-family='"Liberation Sans", sans-serif' font-weight="normal" fill="#111" textLength="51" lengthAdjust="spacingAndGlyphs">Fructose</text>
<rect x="450.3" y="92.8" width="8.8" height="11.3" rx="1.2" fill="#037f03"/>
<text x="462.4" y="103.4" font-size="13.5" text-anchor="start" font-family='"Liberation Sans", sans-serif' font-weight="normal" fill="#111" textLength="47.6" lengthAdjust="spacingAndGlyphs">Glucose</text>
<text x="0" y="0" font-size="13" font-family='"Liberation Sans", sans-serif' fill="#111" textLength="31.8" lengthAdjust="spacingAndGlyphs" transform="translate(12 160.3) rotate(-90)">1-SST</text>
<text x="0" y="0" font-size="13" font-family='"Liberation Sans", sans-serif' fill="#111" textLength="40" lengthAdjust="spacingAndGlyphs" transform="translate(12 124.8) rotate(-90)">activity</text>
<text x="0" y="0" font-size="13" font-family='"Liberation Sans", sans-serif' fill="#111" textLength="202.6" lengthAdjust="spacingAndGlyphs" transform="translate(29.9 223.6) rotate(-90)">(µg 1-kestotriose mg protein<tspan baseline-shift="super" font-size="70%">-1</tspan> h<tspan baseline-shift="super" font-size="70%">-1</tspan>)</text>
<text x="0" y="0" font-size="13" font-family='"Liberation Sans", sans-serif' fill="#111" textLength="80.1" lengthAdjust="spacingAndGlyphs" transform="translate(12.5 408.8) rotate(-90)">1-FFT activity</text>
<text x="0" y="0" font-size="13" font-family='"Liberation Sans", sans-serif' fill="#111" textLength="230.6" lengthAdjust="spacingAndGlyphs" transform="translate(29.8 484.2) rotate(-90)">(µg 1,1-kestotetraose mg protein<tspan baseline-shift="super" font-size="70%">-1</tspan> h<tspan baseline-shift="super" font-size="70%">-1</tspan>)</text>
<text x="0" y="0" font-size="13" font-family='"Liberation Sans", sans-serif' fill="#111" textLength="33.5" lengthAdjust="spacingAndGlyphs" transform="translate(12.4 659.3) rotate(-90)">1-FEH</text>
<text x="0" y="0" font-size="13" font-family='"Liberation Sans", sans-serif' fill="#111" textLength="43.8" lengthAdjust="spacingAndGlyphs" transform="translate(12.4 621.6) rotate(-90)">activity</text>
<text x="0" y="0" font-size="13" font-family='"Liberation Sans", sans-serif' fill="#111" textLength="175.1" lengthAdjust="spacingAndGlyphs" transform="translate(30 706.3) rotate(-90)">(µg fructose mg protein<tspan baseline-shift="super" font-size="70%">-1</tspan> h<tspan baseline-shift="super" font-size="70%">-1</tspan>)</text>
<text x="177.6" y="766.6" font-size="16" text-anchor="start" font-family='"Liberation Sans", sans-serif' font-weight="normal" fill="#111" textLength="399.3" lengthAdjust="spacingAndGlyphs">Time of cultivation under different carbon source (days)</text>
</svg></body></html>
